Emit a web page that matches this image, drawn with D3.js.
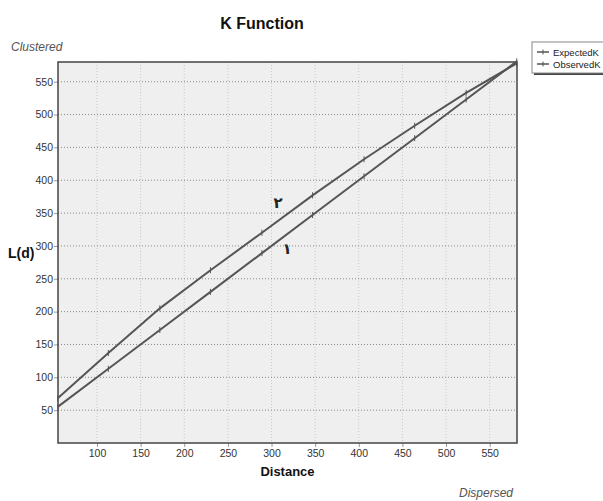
<!DOCTYPE html>
<html>
<head>
<meta charset="utf-8">
<script src="https://cdn.jsdelivr.net/npm/d3@7"></script>
<style>
  body { margin: 0; background: #fff; }
  text { font-family: "Liberation Sans", Arial, sans-serif; }
</style>
</head>
<body>
<div id="chart"></div>
<script>
// Chart size
const width = 603;
const height = 501;

// Data: distance bands and L(d) values
const distance = [55, 113, 172, 230, 289, 347, 406, 464, 523, 581];
const expectedK = [55, 113, 172, 230, 289, 347, 406, 464, 523, 581];
const observedK = [68, 137, 205, 263, 320, 377, 432, 483, 533, 578];
const xTicks = [100, 150, 200, 250, 300, 350, 400, 450, 500, 550];
const yTicks = [50, 100, 150, 200, 250, 300, 350, 400, 450, 500, 550];
const seriesNames = ['ExpectedK', 'ObservedK'];

// Plot box
const plotLeft = 58, plotRight = 517, plotTop = 62, plotBottom = 443;

const x = d3.scaleLinear().domain([55.3, 581.3]).range([plotLeft, plotRight]);
const y = d3.scaleLinear().domain([0, 580]).range([plotBottom, plotTop]);

const svg = d3.select('#chart').append('svg')
    .attr('width', width)
    .attr('height', height);

// Plot background
svg.append('rect')
    .attr('x', plotLeft).attr('y', plotTop)
    .attr('width', plotRight - plotLeft).attr('height', plotBottom - plotTop)
    .attr('fill', '#efefef');

// Vertical grid lines
svg.append('g').selectAll('line')
    .data(xTicks)
    .join('line')
    .attr('x1', d => x(d)).attr('x2', d => x(d))
    .attr('y1', plotTop).attr('y2', plotBottom)
    .attr('stroke', '#c8c8c8')
    .attr('stroke-dasharray', '1,2');

// Horizontal grid lines
svg.append('g').selectAll('line')
    .data(yTicks)
    .join('line')
    .attr('x1', plotLeft).attr('x2', plotRight)
    .attr('y1', d => y(d)).attr('y2', d => y(d))
    .attr('stroke', '#888')
    .attr('stroke-dasharray', '1,2');

// Axes
const xAxis = svg.append('g')
    .attr('transform', `translate(0,${plotBottom})`)
    .call(d3.axisBottom(x).tickValues(xTicks).tickSize(4).tickPadding(3));
const yAxis = svg.append('g')
    .attr('transform', `translate(${plotLeft},0)`)
    .call(d3.axisLeft(y).tickValues(yTicks).tickSize(4).tickPadding(1));

[xAxis, yAxis].forEach(a => {
    a.select('.domain').remove();
    a.selectAll('.tick line').attr('stroke', '#999');
    a.selectAll('.tick text')
        .attr('fill', '#333')
        .style('font-family', '"Liberation Sans", Arial, sans-serif')
        .style('font-size', '10.5px');
});

// Plot border
svg.append('rect')
    .attr('x', plotLeft).attr('y', plotTop)
    .attr('width', plotRight - plotLeft).attr('height', plotBottom - plotTop)
    .attr('fill', 'none')
    .attr('stroke', '#444')
    .attr('stroke-width', 1.5);

// Lines
const line = d3.line()
    .x((d, i) => x(distance[i]))
    .y(d => y(d));

[expectedK, observedK].forEach(values => {
    svg.append('path')
        .datum(values)
        .attr('d', line)
        .attr('fill', 'none')
        .attr('stroke', '#555')
        .attr('stroke-width', 2);

    // small markers at the data points
    svg.append('g').selectAll('line')
        .data(values)
        .join('line')
        .attr('x1', (d, i) => x(distance[i])).attr('x2', (d, i) => x(distance[i]))
        .attr('y1', d => y(d) - 3).attr('y2', d => y(d) + 3)
        .attr('stroke', '#555')
        .attr('stroke-width', 1);
});

// Line annotations
svg.append('text')
    .attr('x', x(300) + 2).attr('y', y(358))
    .attr('font-size', 15).attr('font-weight', 'bold').attr('fill', '#222')
    .style('font-family', '"DejaVu Sans", sans-serif')
    .text('٢');
svg.append('text')
    .attr('x', x(300) + 11).attr('y', y(287))
    .attr('font-size', 15).attr('font-weight', 'bold').attr('fill', '#222')
    .style('font-family', '"DejaVu Sans", sans-serif')
    .text('١');

// Title
svg.append('text')
    .attr('x', 262).attr('y', 29)
    .attr('text-anchor', 'middle')
    .attr('font-size', 16).attr('font-weight', 'bold').attr('fill', '#111')
    .text('K Function');

// Corner notes
svg.append('text')
    .attr('x', 11).attr('y', 51)
    .attr('font-size', 12).attr('font-style', 'italic').attr('fill', '#555')
    .text('Clustered');
svg.append('text')
    .attr('x', plotRight - 4).attr('y', 497)
    .attr('text-anchor', 'end')
    .attr('font-size', 12).attr('font-style', 'italic').attr('fill', '#555')
    .text('Dispersed');

// Axis titles
svg.append('text')
    .attr('x', (plotLeft + plotRight) / 2).attr('y', 476)
    .attr('text-anchor', 'middle')
    .attr('font-size', 13).attr('font-weight', 'bold').attr('fill', '#111')
    .text('Distance');
svg.append('text')
    .attr('x', 8).attr('y', 258)
    .attr('font-size', 14).attr('font-weight', 'bold').attr('fill', '#111')
    .text('L(d)');

// Legend
const legend = svg.append('g').attr('transform', 'translate(532,42)');
legend.append('rect')
    .attr('x', 2).attr('y', 2).attr('width', 80).attr('height', 31)
    .attr('fill', '#444');
legend.append('rect')
    .attr('width', 80).attr('height', 31)
    .attr('fill', '#fff').attr('stroke', '#888');
seriesNames.forEach((name, i) => {
    const g = legend.append('g').attr('transform', `translate(0,${10 + i * 12})`);
    g.append('line').attr('x1', 5).attr('x2', 17).attr('stroke', '#555').attr('stroke-width', 1.5);
    g.append('line').attr('x1', 11).attr('x2', 11).attr('y1', -2.5).attr('y2', 2.5).attr('stroke', '#555');
    g.append('text')
        .attr('x', 21).attr('y', 3.5)
        .attr('font-size', 9.5).attr('fill', '#222')
        .text(name);
});
</script>
</body>
</html>
